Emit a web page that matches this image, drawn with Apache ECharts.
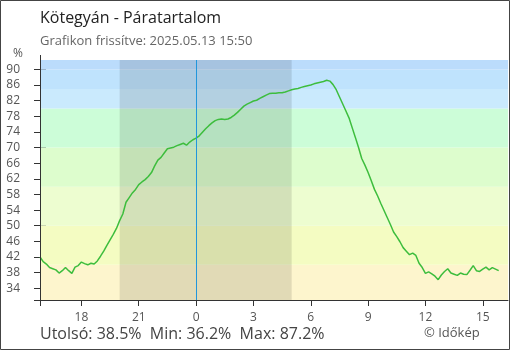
<!DOCTYPE html>
<html><head><meta charset="utf-8">
<script src="https://cdn.jsdelivr.net/npm/echarts@6/dist/echarts.min.js"></script>
<style>html,body{margin:0;padding:0;background:#fff}#c{width:510px;height:350px}</style>
</head><body><div id="c"></div>
<script>
const titleText = 'Kötegyán - Páratartalom';
const subtitleText = 'Grafikon frissítve: 2025.05.13 15:50';
const copyrightText = '© Időkép';
const unitText = '%';
// sampling: first sample 15:50 previous day (minutes relative to midnight), every 10 minutes
const startMinute = -490;
const stepMinute = 10;
const humidity = [
 42.0,40.8,40.2,39.3,39.0,38.7,37.9,38.5,39.3,38.5,
 37.8,39.4,39.8,40.7,40.3,40.0,40.4,40.2,41.0,42.2,
 43.5,45.0,46.4,47.8,49.3,51.3,53.0,56.0,57.2,58.4,
 59.3,60.5,61.2,61.8,62.6,63.6,65.3,66.8,67.5,68.6,
 69.7,69.9,70.1,70.5,70.8,71.1,70.6,71.4,72.0,72.4,
 73.0,73.9,74.8,75.6,76.3,76.9,77.2,77.3,77.2,77.3,
 77.7,78.3,79.0,79.8,80.6,81.1,81.5,81.9,82.1,82.6,
 83.0,83.4,83.8,83.9,83.9,84.0,84.0,84.2,84.5,84.8,
 85.0,85.1,85.4,85.6,85.8,86.0,86.3,86.5,86.7,86.9,
 87.2,87.0,86.1,84.8,83.0,81.2,79.4,77.6,75.1,72.6,
 70.0,67.2,65.5,63.6,61.5,59.3,57.6,55.7,53.9,52.1,
 50.3,48.4,47.2,45.9,44.4,43.5,42.6,43.0,42.4,40.4,
 39.3,37.8,38.2,37.7,37.1,36.2,37.4,38.3,39.0,37.9,
 37.6,37.3,37.9,37.6,37.5,38.6,39.8,38.5,38.3,38.9,
 39.4,38.7,39.3,38.9,38.5
];
const yTicks = [34,38,42,46,50,54,58,62,66,70,74,78,82,86,90];
const xTicks = [-6,-3,0,3,6,9,12,15];
const bandLimits = [31,40,50,60,70,80,85,90,92.4];
const bandColors = ['#fdf5cd','#f4fcc2','#edfdd0','#ddfdcd','#ccfdd8','#caeafd','#bfe3fd','#bbdcfc'];
const nightRange = [-4, 5];
const statLabels = ['Utolsó','Min','Max'];
const statValues = [38.5, 36.2, 87.2];

const data = humidity.map((v,i)=>[(startMinute + i*stepMinute)/60, v]);
const xMin = startMinute/60, xMax = 16.32, yMin = 31, yMax = 92.4;
const FONT = 'Open Sans';

const chart = echarts.init(document.getElementById('c'), null, {renderer:'canvas'});
const axisCol = '#333';
const bandAreas = bandColors.map((c,i)=>[{yAxis:bandLimits[i], itemStyle:{color:c}},{yAxis:bandLimits[i+1]}]);
const statText = statLabels.map((l,i)=>l+': '+statValues[i].toFixed(1)+'%').join('  ');
const hidden = 'rgba(0,0,0,0)';

chart.setOption({
  animation:false,
  backgroundColor:'#fff',
  textStyle:{fontFamily:FONT},
  title:[
    {text:titleText, left:40, top:10, padding:0, textStyle:{fontFamily:FONT,fontSize:16,fontWeight:'normal',color:'#222'}},
    {text:subtitleText, left:40, top:35, padding:0, textStyle:{fontFamily:FONT,fontSize:13,fontWeight:'normal',color:'#666'}}
  ],
  grid:{left:40, right:2, top:60, bottom:50, containLabel:false},
  xAxis:[
    {type:'value', min:xMin, max:xMax, position:'bottom',
     axisLine:{onZero:false, lineStyle:{color:axisCol}},
     axisTick:{customValues:xTicks, inside:false, length:6, lineStyle:{color:axisCol}},
     axisLabel:{customValues:xTicks, margin:12, fontSize:12, color:'#555', fontFamily:FONT,
       formatter:v=>String(v<0?v+24:v)},
     splitLine:{show:false}},
    {type:'value', min:xMin, max:xMax, position:'bottom',
     axisLine:{show:false, onZero:false},
     axisTick:{customValues:xTicks, inside:true, length:6, lineStyle:{color:axisCol}},
     axisLabel:{customValues:xTicks, color:hidden, fontSize:12}, splitLine:{show:false}}
  ],
  yAxis:[
    {type:'value', min:yMin, max:yMax, position:'left',
     axisLine:{show:true, onZero:false, lineStyle:{color:axisCol}},
     axisTick:{show:true, customValues:yTicks, inside:false, length:6, lineStyle:{color:axisCol}},
     axisLabel:{customValues:yTicks, margin:20, fontSize:12, color:'#555', fontFamily:FONT},
     splitLine:{show:false}},
    {type:'value', min:yMin, max:yMax, position:'left',
     axisLine:{show:false, onZero:false},
     axisTick:{show:true, customValues:yTicks, inside:true, length:6, lineStyle:{color:axisCol}},
     axisLabel:{customValues:yTicks, color:hidden, fontSize:12}, splitLine:{show:false}}
  ],
  series:[
    {type:'line', data:[], z:1, silent:true,
     markArea:{silent:true, data:bandAreas}},
    {type:'line', data:[], z:2, silent:true,
     markArea:{silent:true, itemStyle:{color:'rgba(0,0,0,0.11)'}, data:[[{xAxis:nightRange[0]},{xAxis:nightRange[1]}]]}},
    {type:'line', data:[], z:3, silent:true,
     markLine:{silent:true, symbol:'none', label:{show:false}, lineStyle:{color:'#2196dc', width:1, type:'solid'}, data:[{xAxis:0}]}},
    {type:'line', data:data, z:4, showSymbol:false, silent:true,
     lineStyle:{color:'#3dbd3d', width:1.5}}
  ],
  graphic:[
    {type:'line', shape:{x1:40.5,y1:55,x2:40.5,y2:306}, style:{stroke:axisCol,lineWidth:1}, z:10},
    {type:'line', shape:{x1:34,y1:300.5,x2:40.5,y2:300.5}, style:{stroke:axisCol,lineWidth:1}, z:10},
    {type:'text', left:13, top:48, style:{text:unitText, fontFamily:FONT, fontSize:12, fill:'#555'}},
    {type:'text', left:40, top:326, style:{text:statText, fontFamily:FONT, fontSize:16, fill:'#444'}},
    {type:'text', left:424, top:327, style:{text:copyrightText, fontFamily:FONT, fontSize:13, fill:'#555'}},
    {type:'rect', shape:{x:0.5,y:0.5,width:509,height:349}, style:{fill:'none', stroke:'#444', lineWidth:1}, z:20}
  ]
});
</script></body></html>
